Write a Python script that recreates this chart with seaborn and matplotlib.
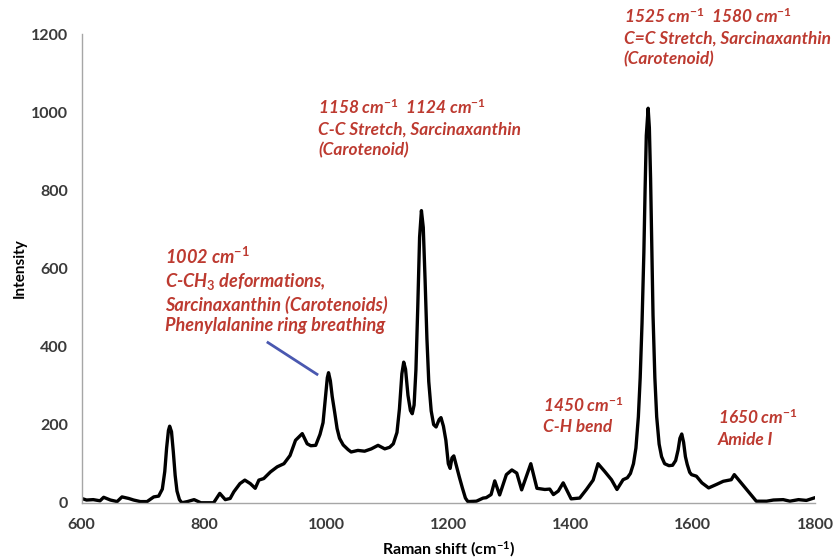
import matplotlib
matplotlib.use("Agg")
import matplotlib.pyplot as plt
import seaborn as sns
import pandas as pd

# Raman spectrum: shift (cm-1) and intensity
raman_shift = [
    600, 608, 619, 630, 636, 647, 658, 666, 677, 685, 696, 707, 718, 726, 732, 736,
    739, 742, 744, 747, 750, 753, 756, 760, 764, 773, 784, 795, 816, 826, 835, 843,
    849, 859, 867, 876, 884, 890, 898, 909, 920, 931, 941, 950, 961, 969, 975, 983,
    990, 995, 999, 1002, 1004, 1007, 1010, 1014, 1018, 1022, 1028, 1036, 1041, 1052,
    1063, 1074, 1085, 1096, 1104, 1110, 1116, 1120, 1124, 1127, 1130, 1134, 1138, 1141,
    1144, 1147, 1150, 1153, 1156, 1159, 1162, 1165, 1168, 1172, 1176, 1180, 1185, 1188,
    1192, 1196, 1200, 1203, 1206, 1209, 1213, 1218, 1223, 1228, 1232, 1246, 1257, 1262,
    1270, 1276, 1284, 1295, 1304, 1312, 1320, 1335, 1345, 1358, 1366, 1372, 1380, 1388,
    1401, 1415, 1426, 1437, 1445, 1456, 1467, 1476, 1486, 1493, 1498, 1503, 1507, 1511,
    1514, 1517, 1520, 1522, 1524, 1527, 1529, 1531, 1533, 1535, 1538, 1541, 1545, 1549,
    1554, 1561, 1567, 1572, 1576, 1579, 1582, 1585, 1588, 1591, 1595, 1598, 1606, 1615,
    1626, 1639, 1650, 1663, 1668, 1677, 1690, 1704, 1721, 1732, 1748, 1759, 1773, 1786,
    1800,
]
intensity = [
    11, 7, 8, 5, 14, 7, 3, 15, 11, 7, 3, 3, 15, 17, 35, 80,
    140, 185, 196, 182, 130, 70, 30, 8, 0, 3, 8, 0, 0, 24, 8, 11,
    28, 49, 58, 49, 37, 58, 62, 79, 92, 100, 121, 160, 177, 151, 146, 147,
    175, 205, 270, 320, 333, 312, 272, 232, 190, 165, 148, 136, 130, 134,
    132, 138, 147, 138, 142, 151, 180, 240, 330, 360, 342, 275, 236, 228,
    250, 340, 500, 680, 748, 705, 570, 420, 310, 235, 200, 194, 213, 218,
    196, 160, 100, 88, 115, 120, 96, 66, 38, 12, 3, 4, 12, 13,
    21, 56, 20, 72, 84, 76, 33, 100, 37, 34, 35, 21, 30, 51,
    10, 12, 34, 58, 100, 80, 59, 34, 59, 64, 75, 100, 140, 220,
    320, 460, 640, 800, 940, 1010, 960, 830, 660, 480, 320, 220, 150, 118,
    100, 95, 96, 108, 135, 165, 176, 155, 118, 98, 78, 72, 68, 51,
    38, 47, 55, 59, 72, 55, 30, 4, 4, 7, 8, 4, 8, 6,
    13,
]

x_ticks = [600, 800, 1000, 1200, 1400, 1600, 1800]
y_ticks = [0, 200, 400, 600, 800, 1000, 1200]

# Peak assignments: (text, x, top y, font size, line spacing)
annotations = [
    ("1158 cm$^{-1}$  1124 cm$^{-1}$\nC-C Stretch, Sarcinaxanthin\n(Carotenoid)", 987, 1035, 12.4, 1.32),
    ("1525 cm$^{-1}$  1580 cm$^{-1}$\nC=C Stretch, Sarcinaxanthin\n(Carotenoid)", 1487, 1268, 12.4, 1.32),
    ("1002 cm$^{-1}$\nC-CH$_3$ deformations,\nSarcinaxanthin (Carotenoids)\nPhenylalanine ring breathing", 736, 658, 13.1, 1.25),
    ("1450 cm$^{-1}$\nC-H bend", 1355, 272, 12.4, 1.32),
    ("1650 cm$^{-1}$\nAmide I", 1641, 241, 12.4, 1.35),
]
pointer_x = [903, 987]
pointer_y = [412, 327]

sns.set_theme(style="white")
plt.rcParams["font.family"] = ["Lato", "DejaVu Sans"]
plt.rcParams["mathtext.fontset"] = "custom"
plt.rcParams["mathtext.rm"] = "Lato:bold"
plt.rcParams["mathtext.it"] = "Lato:italic:bold"
plt.rcParams["mathtext.bf"] = "Lato:bold"

fig = plt.figure(figsize=(8.35, 5.58), dpi=100)
ax = fig.add_axes([0.0978, 0.099, 0.8782, 0.840])

df = pd.DataFrame({"shift": raman_shift, "intensity": intensity})
sns.lineplot(data=df, x="shift", y="intensity", color="black", linewidth=2.4, ax=ax)

ax.set_xlim(600, 1800)
ax.set_ylim(0, 1200)
ax.set_xticks(x_ticks)
ax.set_yticks(y_ticks)

for side in ("top", "right"):
    ax.spines[side].set_visible(False)
for side in ("left", "bottom"):
    ax.spines[side].set_color("#a6a6a6")
    ax.spines[side].set_linewidth(1.0)

ax.tick_params(axis="both", which="major", direction="out", length=4, width=0.8,
               color="#a6a6a6", labelcolor="#3a3a3a", labelsize=11.5)
ax.tick_params(axis="y", pad=6)
ax.tick_params(axis="x", pad=7)
for lab in ax.get_xticklabels() + ax.get_yticklabels():
    lab.set_fontweight("bold")

ax.set_ylabel("Intensity", fontsize=11, fontweight="bold", color="black", labelpad=3)
ax.set_xlabel("Raman shift (cm$^{-1}$)", fontsize=11.5, fontweight="bold", color="black", labelpad=5)

red = "#bd3a30"
for text, tx, ty, fs, ls in annotations:
    ax.text(tx, ty, text, color=red, fontsize=fs, fontweight="bold", fontstyle="italic",
            ha="left", va="top", linespacing=ls, clip_on=False)

ax.plot(pointer_x, pointer_y, color="#4a58b0", linewidth=2.0, solid_capstyle="butt")

fig.savefig("out.png", dpi=100)
